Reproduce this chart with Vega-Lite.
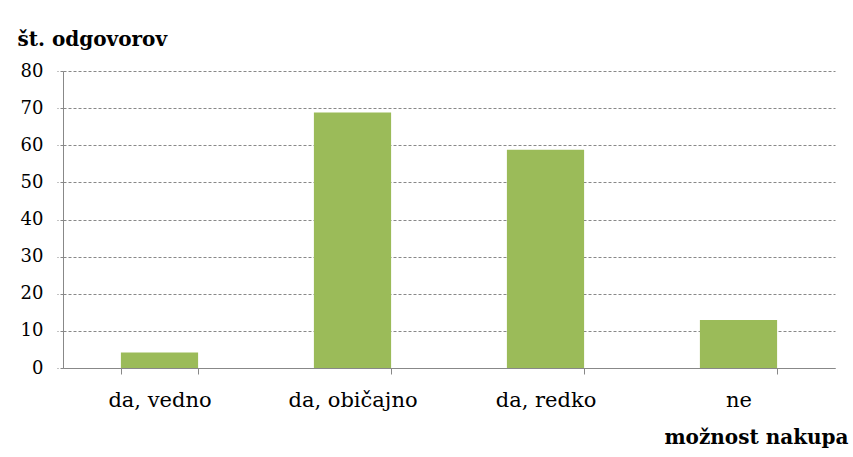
{
  "$schema": "https://vega.github.io/schema/vega-lite/v6.json",
  "width": 772,
  "height": 297,
  "autosize": {"type": "none"},
  "padding": {"left": 63, "top": 71, "right": 18, "bottom": 89},
  "background": "white",
  "data": {
    "values": [
      {"kategorija": "da, vedno", "odgovori": 4.2},
      {"kategorija": "da, običajno", "odgovori": 68.8},
      {"kategorija": "da, redko", "odgovori": 58.8},
      {"kategorija": "ne", "odgovori": 12.9}
    ]
  },
  "mark": {"type": "bar", "color": "#9BBB59"},
  "encoding": {
    "x": {
      "field": "kategorija",
      "type": "nominal",
      "sort": null,
      "scale": {"paddingInner": 0.6, "paddingOuter": 0.3},
      "axis": {
        "title": "možnost nakupa",
        "titleFont": "DejaVu Serif",
        "titleFontSize": 20,
        "titleFontWeight": "bold",
        "titleColor": "#000000",
        "titleAnchor": "end",
        "titleAlign": "right",
        "titleBaseline": "alphabetic",
        "titleX": 785,
        "titleY": 75,
        "labelAngle": 0,
        "labelFont": "DejaVu Serif",
        "labelFontSize": 21,
        "labelColor": "#000000",
        "labelPadding": 15,
        "tickBand": "extent",
        "tickSize": 6,
        "tickColor": "#888888",
        "domainColor": "#888888",
        "grid": false
      }
    },
    "y": {
      "field": "odgovori",
      "type": "quantitative",
      "scale": {"domain": [0, 80], "nice": false},
      "axis": {
        "title": "št. odgovorov",
        "titleFont": "DejaVu Serif",
        "titleFontSize": 20,
        "titleFontWeight": "bold",
        "titleColor": "#000000",
        "titleAngle": 0,
        "titleAlign": "left",
        "titleBaseline": "alphabetic",
        "titleX": -46,
        "titleY": -26,
        "values": [0, 10, 20, 30, 40, 50, 60, 70, 80],
        "labelFont": "DejaVu Serif",
        "labelFontSize": 18,
        "labelColor": "#000000",
        "labelPadding": 14,
        "tickSize": 6,
        "tickColor": "#888888",
        "tickDash": [3, 2],
        "domainColor": "#888888",
        "grid": true,
        "gridColor": "#888888",
        "gridDash": [3, 2],
        "gridWidth": 1
      }
    }
  },
  "config": {"view": {"stroke": null}}
}
